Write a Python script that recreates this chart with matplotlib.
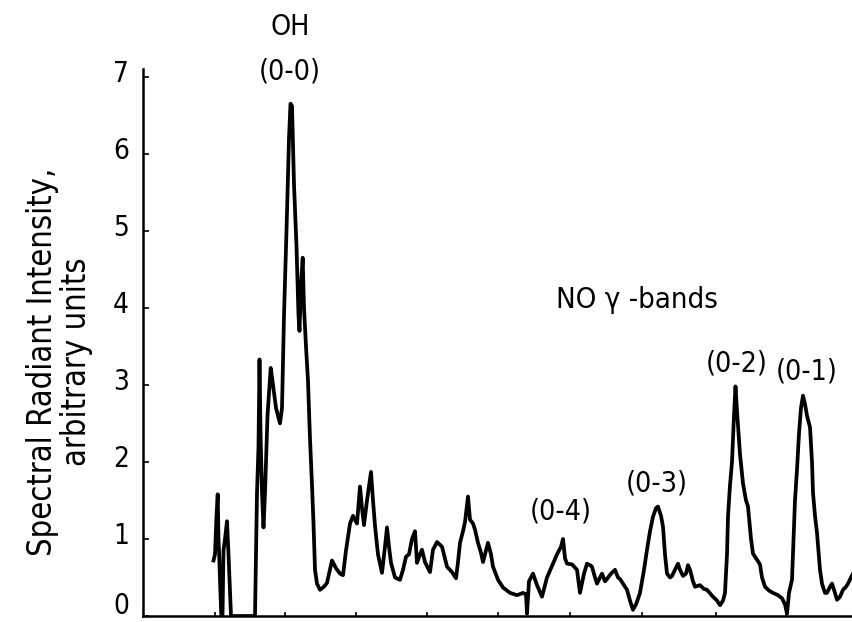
import matplotlib
matplotlib.use('Agg')
import matplotlib.pyplot as plt
from matplotlib.transforms import ScaledTranslation

# Spectrum trace (x: scan position, arbitrary; y: intensity)
scan_pos = [213.5, 215, 216.5, 217.7, 218.5, 219.3, 220.3, 221.3, 222.5, 223.5,
            225, 227, 228.5, 230, 231, 255, 257, 258.5, 259.5, 260.5,
            262, 263.5, 265, 267.5, 270.7, 273, 276, 280, 282, 284,
            286.5, 289, 290.5, 292, 294, 296.5, 298.5, 299.5, 301, 302.7,
            304, 306, 308, 310, 312, 313.5, 315, 317, 320, 324,
            327, 332, 336, 340, 343, 346, 350, 353, 355, 357,
            360, 362, 364, 367, 371, 373, 375, 378, 382, 385,
            387, 389, 391, 395, 400, 403, 406, 409, 412, 415,
            417, 420, 422, 425, 430, 433, 437, 442, 447, 452,
            456, 458, 460, 463, 465, 468, 470, 473, 475, 478,
            481, 483, 486, 488, 491, 493, 498, 503, 510, 517,
            523, 526, 527, 529, 533, 537, 542, 547, 552, 557,
            561, 563, 565, 567, 572, 577, 580, 584, 587, 590,
            592, 595, 597, 600, 602, 605, 607, 611, 615, 618,
            620, 624, 627, 630, 633, 636, 640, 644, 647, 650,
            653, 656, 658, 661, 663, 665, 667, 670, 672, 675,
            678, 680, 683, 686, 688, 690, 693, 695, 700, 704,
            707, 713, 717, 720, 723, 725, 727, 728, 730, 732,
            734, 735.5, 737, 740, 743, 746, 748, 751, 753, 756,
            760, 762, 765, 769, 773, 778, 782, 785, 787, 789,
            792, 795, 797, 799, 801, 803, 805, 807, 810, 812,
            813, 815, 817, 820, 822, 825, 827, 830, 832, 835,
            837, 840, 843, 846, 848, 851, 853]
intensity = [0.72, 0.80, 1.3, 1.58, 1.0, 0.75, 0.35, 0.0, 0.0, 0.85,
             1.0, 1.23, 0.8, 0.3, 0.0, 0.0, 1.6, 2.2, 3.33, 2.4,
             1.6, 1.15, 1.6, 2.6, 3.22, 3.0, 2.7, 2.5, 2.7, 3.9,
             5.0, 6.2, 6.65, 6.62, 5.6, 4.8, 3.9, 3.7, 4.3, 4.65,
             4.0, 3.5, 3.05, 2.3, 1.7, 1.2, 0.6, 0.42, 0.34, 0.38,
             0.43, 0.72, 0.62, 0.55, 0.53, 0.85, 1.2, 1.3, 1.25, 1.2,
             1.68, 1.4, 1.18, 1.5, 1.87, 1.5, 1.17, 0.8, 0.56, 0.9,
             1.15, 0.9, 0.69, 0.5, 0.47, 0.6, 0.77, 0.8, 1.0, 1.1,
             0.69, 0.8, 0.86, 0.7, 0.57, 0.86, 0.96, 0.9, 0.64, 0.57,
             0.49, 0.7, 0.95, 1.1, 1.22, 1.55, 1.25, 1.2, 1.12, 0.95,
             0.82, 0.7, 0.85, 0.95, 0.8, 0.64, 0.47, 0.37, 0.3, 0.27,
             0.3, 0.28, 0.03, 0.45, 0.55, 0.4, 0.25, 0.5, 0.65, 0.8,
             0.9, 1.0, 0.75, 0.68, 0.67, 0.6, 0.3, 0.55, 0.68, 0.66,
             0.64, 0.5, 0.42, 0.5, 0.55, 0.45, 0.48, 0.55, 0.6, 0.5,
             0.48, 0.4, 0.34, 0.2, 0.08, 0.15, 0.3, 0.6, 0.86, 1.1,
             1.29, 1.4, 1.42, 1.3, 1.16, 0.8, 0.55, 0.5, 0.52, 0.6,
             0.68, 0.6, 0.52, 0.55, 0.66, 0.6, 0.45, 0.38, 0.4, 0.35,
             0.34, 0.25, 0.2, 0.14, 0.2, 0.3, 0.8, 1.29, 1.7, 2.0,
             2.6, 2.98, 2.66, 2.1, 1.72, 1.5, 1.42, 1.0, 0.81, 0.75,
             0.67, 0.5, 0.38, 0.33, 0.3, 0.27, 0.23, 0.15, 0.03, 0.3,
             0.47, 1.5, 1.9, 2.37, 2.7, 2.86, 2.75, 2.6, 2.45, 2.0,
             1.6, 1.3, 1.08, 0.6, 0.42, 0.3, 0.3, 0.38, 0.42, 0.3,
             0.21, 0.25, 0.34, 0.38, 0.42, 0.5, 0.55]

# band labels: text, x position, y position (intensity units)
band_labels = ['OH\n(0-0)', '(0-4)', '(0-3)', '(0-2)', '(0-1)']
band_x = [290, 561, 657, 737, 807]
band_y = [7.35, 1.35, 1.72, 3.28, 3.18]

y_ticks = [0, 1, 2, 3, 4, 5, 6, 7]
x_minor = [215, 285, 356, 427, 498, 570, 642, 716, 786]

plt.rcParams['font.family'] = ['DejaVu Sans']
plt.rcParams['font.stretch'] = 'condensed'

fig = plt.figure(figsize=(8.53, 6.22), dpi=100)
ax = fig.add_axes([143 / 853, 6 / 622, 710 / 853, 547 / 622])

ax.plot(scan_pos, intensity, color='black', lw=2.7, solid_joinstyle='round')

ax.set_xlim(143, 853)
ax.set_ylim(0, 7.1)
ax.spines['top'].set_visible(False)
ax.spines['right'].set_visible(False)
ax.spines['left'].set_linewidth(1.8)
ax.spines['bottom'].set_linewidth(1.8)

ax.set_yticks(y_ticks)
ax.set_yticklabels([str(t) for t in y_ticks], fontsize=20)
ax.tick_params(axis='y', direction='in', length=4, width=1.2, pad=10)
# tick labels in the original sit a little above their ticks (the 0 more so)
for i, lbl in enumerate(ax.get_yticklabels()):
    up = 9 if i == 0 else 4
    lbl.set_transform(lbl.get_transform() + ScaledTranslation(0, up / 72, fig.dpi_scale_trans))
ax.set_xticks(x_minor)
ax.set_xticklabels([])
ax.tick_params(axis='x', direction='in', length=3, width=1.2)

ax.text(-0.118, 0.465, 'Spectral Radiant Intensity,\narbitrary units',
        transform=ax.transAxes, rotation=90, ha='center', va='center',
        fontsize=23.5, linespacing=1.05)

for lab, bx, by in zip(band_labels, band_x, band_y):
    ax.text(bx, by, lab, ha='center', va='center', fontsize=20.5,
            linespacing=1.75, clip_on=False)

ax.text(637, 4.1, 'NO \u03b3 -bands', ha='center', va='center', fontsize=21)

fig.savefig('out.png', dpi=100)
